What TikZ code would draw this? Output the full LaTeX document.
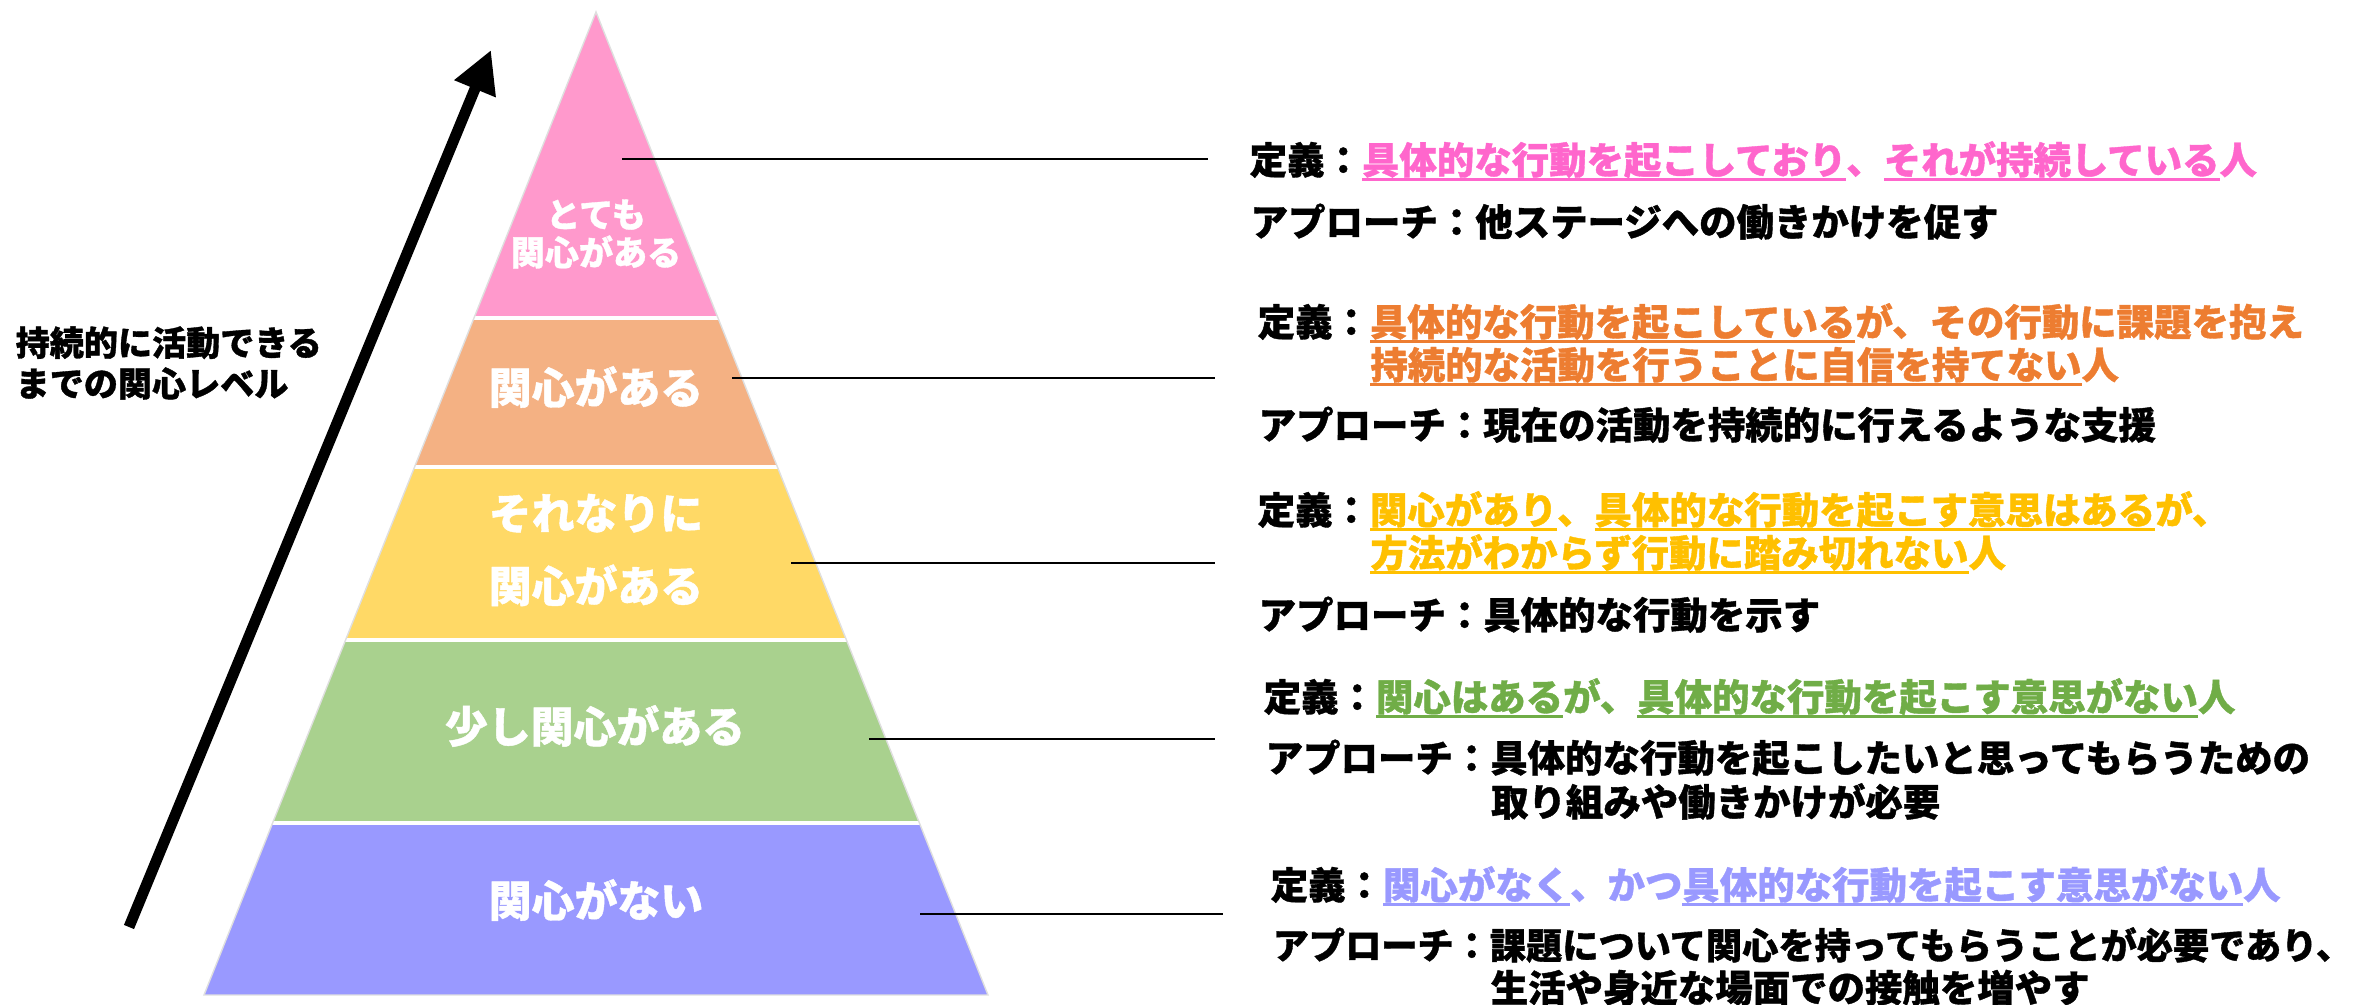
\documentclass[tikz,border=0pt]{standalone}
\usepackage{fontspec}
\setmainfont{Noto Sans CJK JP}[BoldFeatures={FakeBold=1}]
\usetikzlibrary{arrows.meta, calc}
\definecolor{tpink}{HTML}{FF99CC}
\definecolor{torange}{HTML}{F4B183}
\definecolor{tyellow}{HTML}{FFD966}
\definecolor{tgreen}{HTML}{A9D18E}
\definecolor{tblue}{HTML}{9999FF}
\definecolor{ptxt}{HTML}{FF66CC}
\definecolor{otxt}{HTML}{ED7D31}
\definecolor{ytxt}{HTML}{FFC000}
\definecolor{gtxt}{HTML}{70AD47}
\definecolor{btxt}{HTML}{9999FF}
\newcommand{\undl}[1]{\sbox0{#1}\rlap{\rule[-0.175em]{\wd0}{0.08em}}\usebox0}
\tikzset{%
    lvl/.style={text=white, align=center, inner sep=0pt, font=\bfseries\fontsize{12.2}{20.7}\selectfont},
    txt/.style={anchor=base west, inner sep=0pt, font=\bfseries\fontsize{10.65}{12}\selectfont},
    con/.style={line width=0.85pt},
    sep/.style={white, line width=1.2pt},
    arr/.style={line width=3.1pt, -{Triangle[length=0.42cm, width=0.42cm]}},
}
\begin{document}
\begin{tikzpicture}
    \useasboundingbox (0,0) rectangle (23.72,-10.05);
    \coordinate (top) at (5.96,-0.12);
    \coordinate (bl) at (2.04,-9.95);
    \coordinate (br) at (9.88,-9.95);
    % pyramid
    \begin{scope}
        \clip (top)--(bl)--(br)--cycle;
        \foreach \ya/\yb/\col in {-0.12/-3.18/tpink, -3.18/-4.67/torange, -4.67/-6.40/tyellow, -6.40/-8.23/tgreen, -8.23/-9.95/tblue}
            \fill[\col] (2,\ya) rectangle (10,\yb);
        \foreach \y in {-3.18,-4.67,-6.40,-8.23}
            \draw[sep] (2,\y)--(10,\y);
    \end{scope}
    \draw[gray!25, line width=0.4pt] (top)--(bl)--(br)--cycle;
    \node[lvl, font=\bfseries\fontsize{9.7}{10.8}\selectfont] (l1) at (5.96,-2.34) {とても\\関心がある};
    \node[lvl] (l2) at (5.96,-3.87) {関心がある};
    \node[lvl] (l3) at (5.96,-5.50) {それなりに\\関心がある};
    \node[lvl] (l4) at (5.95,-7.26) {少し関心がある};
    \node[lvl] (l5) at (5.96,-9.00) {関心がない};
    % arrow
    \node[anchor=west, align=left, inner sep=0pt, font=\bfseries\fontsize{9.7}{11.6}\selectfont] (lv) at (0.15,-3.63) {持続的に活動できる\\までの関心レベル};
    \coordinate (low) at (1.29,-9.27);
    \coordinate (high) at (4.91,-0.50);
    \draw[arr] (low)--(high);
    % connectors
    \coordinate (s1) at (6.22,-1.59); \coordinate (e1) at (12.08,-1.59);
    \coordinate (s2) at (7.32,-3.78); \coordinate (e2) at (12.15,-3.78);
    \coordinate (s3) at (7.91,-5.63); \coordinate (e3) at (12.15,-5.63);
    \coordinate (s4) at (8.69,-7.39); \coordinate (e4) at (12.15,-7.39);
    \coordinate (s5) at (9.20,-9.14); \coordinate (e5) at (12.23,-9.14);
    \foreach \i in {1,...,5}
        \draw[con] (s\i)--(e\i);
    % texts
    \node[txt] (d1) at (12.49,-1.74) {定義：\textcolor{ptxt}{\undl{具体的な行動を起こしており}、\undl{それが持続している}人}};
    \node[txt] (a1) at (12.50,-2.36) {アプローチ：他ステージへの働きかけを促す};
    \node[txt] (d2) at (12.57,-3.36) {定義：\textcolor{otxt}{\undl{具体的な行動を起こしている}が、その行動に課題を抱え}};
    \node[txt] (d2b) at ($(d2.base west)+(1.127,-0.43)$) {\textcolor{otxt}{\undl{持続的な活動を行うことに自信を持てない}人}};
    \node[txt] (a2) at (12.58,-4.39) {アプローチ：現在の活動を持続的に行えるような支援};
    \node[txt] (d3) at (12.57,-5.24) {定義：\textcolor{ytxt}{\undl{関心があり}、\undl{具体的な行動を起こす意思はある}が、}};
    \node[txt] (d3b) at ($(d3.base west)+(1.127,-0.43)$) {\textcolor{ytxt}{\undl{方法がわからず行動に踏み切れない}人}};
    \node[txt] (a3) at (12.58,-6.29) {アプローチ：具体的な行動を示す};
    \node[txt] (d4) at (12.63,-7.11) {定義：\textcolor{gtxt}{\undl{関心はある}が、\undl{具体的な行動を起こす意思がない}人}};
    \node[txt] (a4) at (12.65,-7.72) {アプローチ：具体的な行動を起こしたいと思ってもらうための};
    \node[txt] (a4b) at ($(a4.base west)+(2.254,-0.44)$) {取り組みや働きかけが必要};
    \node[txt] (d5) at (12.70,-8.99) {定義：\textcolor{btxt}{\undl{関心がなく}、かつ\undl{具体的な行動を起こす意思がない}人}};
    \node[txt, font=\bfseries\fontsize{10.3}{12}\selectfont] (a5) at (12.72,-9.59) {アプローチ：課題について関心を持ってもらうことが必要であり、};
    \node[txt] (a5b) at ($(a5.base west)+(2.18,-0.43)$) {生活や身近な場面での接触を増やす};
\end{tikzpicture}
\end{document}
